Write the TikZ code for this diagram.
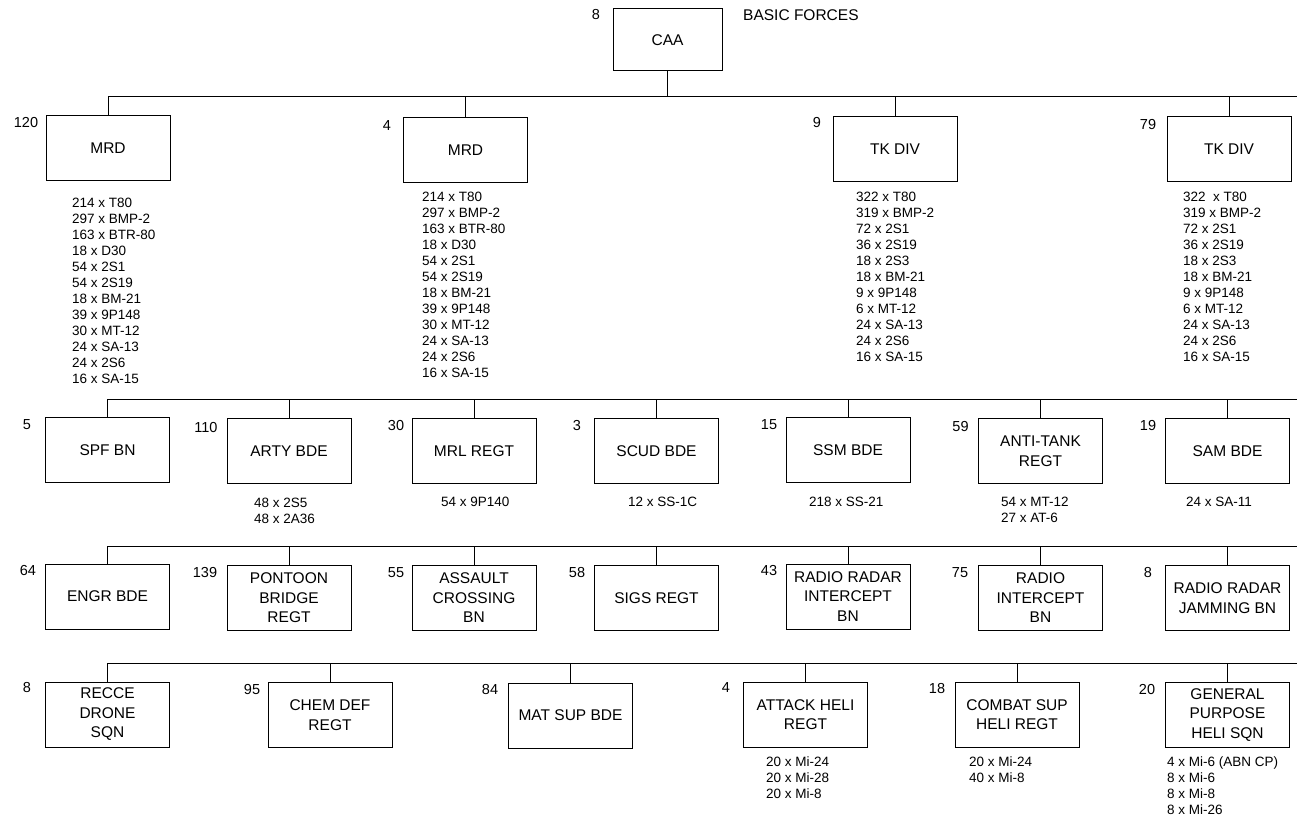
\documentclass[tikz,border=0pt]{standalone}
\usepackage{fontspec}
\setmainfont{Liberation Sans}
\usepackage{tikz}

\tikzset{
    unit/.style={draw, line width=1pt, minimum width=124pt, minimum height=65pt,
        inner sep=2pt, align=center, font=\fontsize{15.5}{19.5}\selectfont},
    count/.style={inner sep=0pt, font=\fontsize{14.5}{17}\selectfont},
    kit/.style={anchor=north west, inner sep=0pt, align=left, font=\fontsize{13.5}{16}\selectfont},
    link/.style={line width=1pt}
}

\begin{document}
\begin{tikzpicture}[x=1pt, y=-1pt]
\useasboundingbox (0,0) rectangle (1297,818);

\node[unit, minimum width=109pt, minimum height=62pt] (caa) at (667.5,40) {CAA};
\node[count] (caa-n) at (596,15) {8};
\node[count, anchor=west, font=\fontsize{15.5}{18}\selectfont] (title) at (743,15) {BASIC FORCES};

\node[unit] (mrdA) at (108,148.5) {MRD};
\node[unit] (mrdB) at (465.5,150.5) {MRD};
\node[unit] (tkA) at (895,149.5) {TK DIV};
\node[unit] (tkB) at (1229,149) {TK DIV};
\node[count] (mrdA-n) at (26,123) {120};
\node[count] (mrdB-n) at (387,126) {4};
\node[count] (tkA-n) at (817,123) {9};
\node[count] (tkB-n) at (1148,125) {79};
\node[kit] (mrdA-k) at (72,198) {214 x T80\\297 x BMP-2\\163 x BTR-80\\18 x D30\\54 x 2S1\\54 x 2S19\\18 x BM-21\\39 x 9P148\\30 x MT-12\\24 x SA-13\\24 x 2S6\\16 x SA-15};
\node[kit] (mrdB-k) at (422,192) {214 x T80\\297 x BMP-2\\163 x BTR-80\\18 x D30\\54 x 2S1\\54 x 2S19\\18 x BM-21\\39 x 9P148\\30 x MT-12\\24 x SA-13\\24 x 2S6\\16 x SA-15};
\node[kit] (tkA-k) at (856,192) {322 x T80\\319 x BMP-2\\72 x 2S1\\36 x 2S19\\18 x 2S3\\18 x BM-21\\9 x 9P148\\6 x MT-12\\24 x SA-13\\24 x 2S6\\16 x SA-15};
\node[kit] (tkB-k) at (1183,192) {322\ \ x T80\\319 x BMP-2\\72 x 2S1\\36 x 2S19\\18 x 2S3\\18 x BM-21\\9 x 9P148\\6 x MT-12\\24 x SA-13\\24 x 2S6\\16 x SA-15};

\node[unit] (spf) at (107.5,450) {SPF BN};
\node[unit] (arty) at (289,451) {ARTY BDE};
\node[unit] (mrl) at (474,451) {MRL REGT};
\node[unit] (scud) at (656.5,451) {SCUD BDE};
\node[unit] (ssm) at (848,450) {SSM BDE};
\node[unit] (atk) at (1040.5,451) {ANTI-TANK\\REGT};
\node[unit] (sam) at (1227.5,451) {SAM BDE};
\node[count] (spf-n) at (27,425) {5};
\node[count] (arty-n) at (206,428) {110};
\node[count] (mrl-n) at (396,426) {30};
\node[count] (scud-n) at (577,426) {3};
\node[count] (ssm-n) at (769,425) {15};
\node[count] (atk-n) at (960.5,427) {59};
\node[count] (sam-n) at (1148,426) {19};
\node[kit] (arty-k) at (254,498) {48 x 2S5\\48 x 2A36};
\node[kit] (mrl-k) at (441,497) {54 x 9P140};
\node[kit] (scud-k) at (628,497) {12 x SS-1C};
\node[kit] (ssm-k) at (809,497) {218 x SS-21};
\node[kit] (atk-k) at (1001,497) {54 x MT-12\\27 x AT-6};
\node[kit] (sam-k) at (1186,497) {24 x SA-11};

\node[unit] (engr) at (107.5,596.5) {ENGR BDE};
\node[unit] (pont) at (289,598) {PONTOON\\BRIDGE\\REGT};
\node[unit] (aslt) at (474,598) {ASSAULT\\CROSSING\\BN};
\node[unit] (sigs) at (656.5,598) {SIGS REGT};
\node[unit] (rri) at (848,596.5) {RADIO RADAR\\INTERCEPT\\BN};
\node[unit] (ri) at (1040.5,598) {RADIO\\INTERCEPT\\BN};
\node[unit] (rrj) at (1227.5,598) {RADIO RADAR\\JAMMING BN};
\node[count] (engr-n) at (28,571) {64};
\node[count] (pont-n) at (205,573) {139};
\node[count] (aslt-n) at (396,573) {55};
\node[count] (sigs-n) at (577,573) {58};
\node[count] (rri-n) at (769,571) {43};
\node[count] (ri-n) at (960,573) {75};
\node[count] (rrj-n) at (1148,573) {8};

\node[unit] (recce) at (107.5,714.5) {RECCE\\DRONE\\SQN};
\node[unit] (chem) at (330,715) {CHEM DEF\\REGT};
\node[unit] (mat) at (570.5,715.5) {MAT SUP BDE};
\node[unit] (heli) at (805.5,714.5) {ATTACK HELI\\REGT};
\node[unit] (csh) at (1017,714.5) {COMBAT SUP\\HELI REGT};
\node[unit] (gph) at (1227.5,715) {GENERAL\\PURPOSE\\HELI SQN};
\node[count] (recce-n) at (27,688) {8};
\node[count] (chem-n) at (252,690) {95};
\node[count] (mat-n) at (490,690) {84};
\node[count] (heli-n) at (726,688) {4};
\node[count] (csh-n) at (937,689) {18};
\node[count] (gph-n) at (1147,690) {20};
\node[kit] (heli-k) at (766,757) {20 x Mi-24\\20 x Mi-28\\20 x Mi-8};
\node[kit] (csh-k) at (969,757) {20 x Mi-24\\40 x Mi-8};
\node[kit] (gph-k) at (1167,757) {4 x Mi-6 (ABN CP)\\8 x Mi-6\\8 x Mi-8\\8 x Mi-26};

\coordinate (bus1) at (1297,97);
\coordinate (bus2) at (1297,399);
\coordinate (bus3) at (1297,546);
\coordinate (bus4) at (1297,663);
\draw[link] (caa.south) -- (caa.south |- bus1);
\draw[link] (mrdA.north) -- (mrdA.north |- bus1) -- (bus1);
\draw[link] (mrdB.north) -- (mrdB.north |- bus1);
\draw[link] (tkA.north) -- (tkA.north |- bus1);
\draw[link] (tkB.north) -- (tkB.north |- bus1);
\draw[link] (spf.north) -- (spf.north |- bus2) -- (bus2);
\draw[link] (arty.north) -- (arty.north |- bus2);
\draw[link] (mrl.north) -- (mrl.north |- bus2);
\draw[link] (scud.north) -- (scud.north |- bus2);
\draw[link] (ssm.north) -- (ssm.north |- bus2);
\draw[link] (atk.north) -- (atk.north |- bus2);
\draw[link] (sam.north) -- (sam.north |- bus2);
\draw[link] (engr.north) -- (engr.north |- bus3) -- (bus3);
\draw[link] (pont.north) -- (pont.north |- bus3);
\draw[link] (aslt.north) -- (aslt.north |- bus3);
\draw[link] (sigs.north) -- (sigs.north |- bus3);
\draw[link] (rri.north) -- (rri.north |- bus3);
\draw[link] (ri.north) -- (ri.north |- bus3);
\draw[link] (rrj.north) -- (rrj.north |- bus3);
\draw[link] (recce.north) -- (recce.north |- bus4) -- (bus4);
\draw[link] (chem.north) -- (chem.north |- bus4);
\draw[link] (mat.north) -- (mat.north |- bus4);
\draw[link] (heli.north) -- (heli.north |- bus4);
\draw[link] (csh.north) -- (csh.north |- bus4);
\draw[link] (gph.north) -- (gph.north |- bus4);
\end{tikzpicture}
\end{document}
